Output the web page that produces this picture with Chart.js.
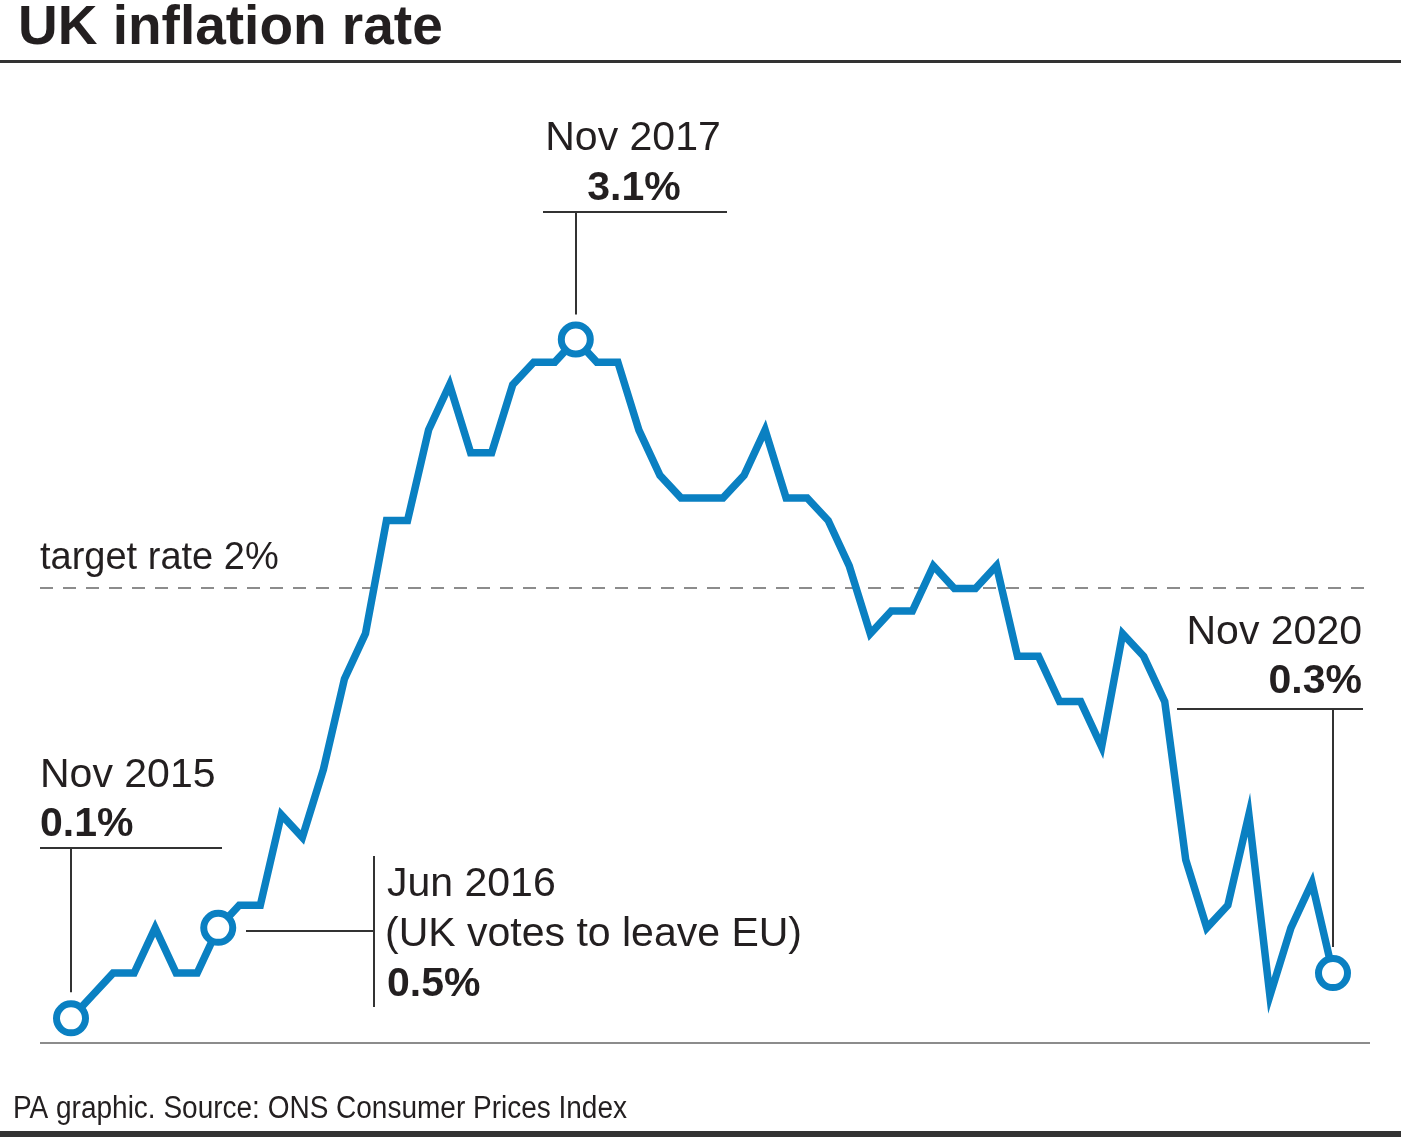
<!DOCTYPE html>
<html>
<head>
<meta charset="utf-8">
<title>UK inflation rate</title>
<script src="https://cdn.jsdelivr.net/npm/chart.js@4/dist/chart.umd.min.js"></script>
<style>
    html, body { margin: 0; padding: 0; background: #fff; }
    canvas { display: block; }
</style>
</head>
<body>
<canvas id="InflationChart" width="1401" height="1137"></canvas>
<script>
// Monthly CPI, Nov 2015 - Nov 2020
var months = [
    'Nov 2015', 'Dec 2015',
    'Jan 2016', 'Feb 2016', 'Mar 2016', 'Apr 2016', 'May 2016', 'Jun 2016',
    'Jul 2016', 'Aug 2016', 'Sep 2016', 'Oct 2016', 'Nov 2016', 'Dec 2016',
    'Jan 2017', 'Feb 2017', 'Mar 2017', 'Apr 2017', 'May 2017', 'Jun 2017',
    'Jul 2017', 'Aug 2017', 'Sep 2017', 'Oct 2017', 'Nov 2017', 'Dec 2017',
    'Jan 2018', 'Feb 2018', 'Mar 2018', 'Apr 2018', 'May 2018', 'Jun 2018',
    'Jul 2018', 'Aug 2018', 'Sep 2018', 'Oct 2018', 'Nov 2018', 'Dec 2018',
    'Jan 2019', 'Feb 2019', 'Mar 2019', 'Apr 2019', 'May 2019', 'Jun 2019',
    'Jul 2019', 'Aug 2019', 'Sep 2019', 'Oct 2019', 'Nov 2019', 'Dec 2019',
    'Jan 2020', 'Feb 2020', 'Mar 2020', 'Apr 2020', 'May 2020', 'Jun 2020',
    'Jul 2020', 'Aug 2020', 'Sep 2020', 'Oct 2020', 'Nov 2020'
];

var cpiRates = [
    0.1, 0.2,
    0.3, 0.3, 0.5, 0.3, 0.3, 0.5, 0.6, 0.6, 1.0, 0.9, 1.2, 1.6,
    1.8, 2.3, 2.3, 2.7, 2.9, 2.6, 2.6, 2.9, 3.0, 3.0, 3.1, 3.0,
    3.0, 2.7, 2.5, 2.4, 2.4, 2.4, 2.5, 2.7, 2.4, 2.4, 2.3, 2.1,
    1.8, 1.9, 1.9, 2.1, 2.0, 2.0, 2.1, 1.7, 1.7, 1.5, 1.5, 1.3,
    1.8, 1.7, 1.5, 0.8, 0.5, 0.6, 1.0, 0.2, 0.5, 0.7, 0.3
];

var targetRate = 2;
var targetLabel = 'target rate 2%';

var calloutIndexes = [0, 7, 24, 60];
var calloutNotes = ['', '(UK votes to leave EU)', '', ''];

var chartTitle = 'UK inflation rate';
var sourceText = 'PA graphic. Source: ONS Consumer Prices Index';

var textColor = '#231f20';
var lineColor = '#0a80c2';
var ruleColor = '#333333';
var greyColor = '#8c8c8c';
var fontFamily = '"Liberation Sans", Arial, sans-serif';

function drawText(ctx, text, x, y, size, bold, align, maxWidth) {
    ctx.font = (bold ? 'bold ' : '') + size + 'px ' + fontFamily;
    ctx.fillStyle = textColor;
    ctx.textAlign = align || 'left';
    ctx.textBaseline = 'alphabetic';
    if (maxWidth) {
        ctx.fillText(text, x, y, maxWidth);
    } else {
        ctx.fillText(text, x, y);
    }
}

function hLine(ctx, x1, x2, y) {
    ctx.beginPath();
    ctx.moveTo(x1, y);
    ctx.lineTo(x2, y);
    ctx.stroke();
}

function vLine(ctx, x, y1, y2) {
    ctx.beginPath();
    ctx.moveTo(x, y1);
    ctx.lineTo(x, y2);
    ctx.stroke();
}

var framePlugin = {
    id: 'frame',
    beforeDatasetsDraw: function (chart) {
        var ctx = chart.ctx;
        var area = chart.chartArea;
        var yScale = chart.scales.y;

        ctx.save();

        // Title and rules
        drawText(ctx, chartTitle, 18, 44, 55, true, 'left', 426);
        ctx.fillStyle = ruleColor;
        ctx.fillRect(0, 60, chart.width, 3);
        ctx.fillRect(0, 1131, chart.width, 6);
        drawText(ctx, sourceText, 13, 1118, 31, false, 'left', 614);

        // Target line
        var ty = Math.round(yScale.getPixelForValue(targetRate));
        ctx.strokeStyle = greyColor;
        ctx.lineWidth = 2;
        ctx.setLineDash([13, 10]);
        hLine(ctx, area.left - 31, area.right + 37, ty);
        ctx.setLineDash([]);
        drawText(ctx, targetLabel, 40, ty - 19, 38, false, 'left');

        // Baseline
        ctx.strokeStyle = greyColor;
        ctx.lineWidth = 2;
        hLine(ctx, area.left - 31, area.right + 37, area.bottom + 2);

        ctx.restore();
    },
    afterDatasetsDraw: function (chart) {
        var ctx = chart.ctx;
        var meta = chart.getDatasetMeta(0);

        ctx.save();
        ctx.strokeStyle = ruleColor;
        ctx.lineWidth = 2;

        calloutIndexes.forEach(function (index, n) {
            var pt = meta.data[index];
            var px = Math.round(pt.x);
            var py = pt.y;
            var dateText = months[index];
            var valueText = cpiRates[index].toFixed(1) + '%';

            if (n === 0) {
                drawText(ctx, dateText, 40, 787, 41, false, 'left');
                drawText(ctx, valueText, 40, 836, 41, true, 'left');
                hLine(ctx, 40, 222, 848);
                vLine(ctx, px, 848, py - 26);
            } else if (n === 1) {
                drawText(ctx, dateText, 387, 896, 41, false, 'left');
                drawText(ctx, calloutNotes[n], 385, 946, 41, false, 'left');
                drawText(ctx, valueText, 387, 996, 41, true, 'left');
                vLine(ctx, 374, 856, 1007);
                hLine(ctx, px + 28, 374, Math.round(py) + 3);
            } else if (n === 2) {
                drawText(ctx, dateText, 633, 150, 41, false, 'center');
                drawText(ctx, valueText, 634, 200, 41, true, 'center');
                hLine(ctx, 543, 727, 212);
                vLine(ctx, px, 212, py - 25);
            } else {
                drawText(ctx, dateText, 1362, 644, 41, false, 'right');
                drawText(ctx, valueText, 1362, 693, 41, true, 'right');
                hLine(ctx, 1177, 1363, 709);
                vLine(ctx, px, 709, py - 26);
            }
        });

        ctx.restore();
    }
};

var ctx = document.getElementById('InflationChart');

new Chart(ctx, {
    type: 'line',
    data: {
        labels: months,
        datasets: [{
            data: cpiRates,
            borderColor: lineColor,
            borderWidth: 7.5,
            borderJoinStyle: 'miter',
            tension: 0,
            fill: false,
            clip: false,
            pointRadius: function (c) {
                return calloutIndexes.indexOf(c.dataIndex) !== -1 ? 14.5 : 0;
            },
            pointBorderWidth: 7,
            pointBorderColor: lineColor,
            pointBackgroundColor: '#ffffff',
            pointHoverRadius: 0
        }]
    },
    options: {
        responsive: false,
        devicePixelRatio: 1,
        animation: false,
        events: [],
        layout: {
            padding: { left: 71, right: 68, top: 249, bottom: 96 }
        },
        scales: {
            x: { display: false },
            y: { display: false, min: 0, max: 3.5 }
        },
        plugins: {
            legend: { display: false },
            tooltip: { enabled: false },
            title: { display: false }
        }
    },
    plugins: [framePlugin]
});
</script>
</body>
</html>
